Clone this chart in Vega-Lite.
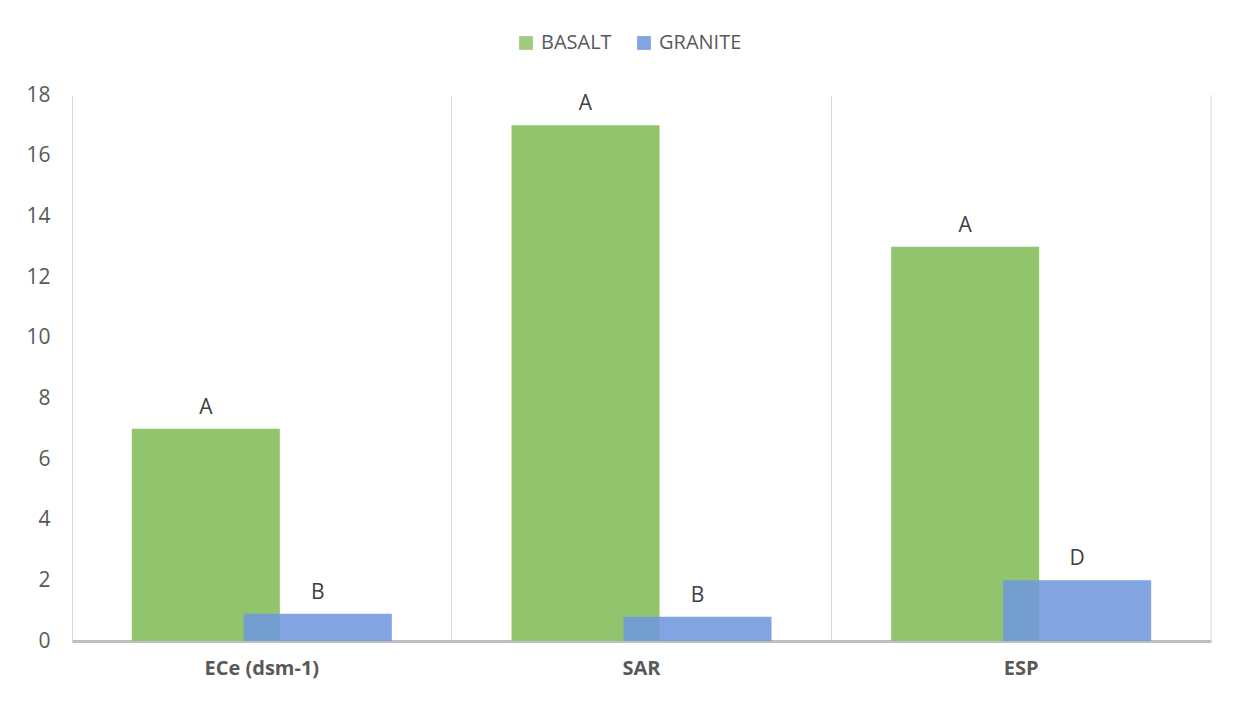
{
  "$schema": "https://vega.github.io/schema/vega-lite/v6.json",
  "width": 1139,
  "height": 546,
  "autosize": {"type": "none"},
  "padding": {"left": 72, "top": 95, "right": 23, "bottom": 60},
  "background": "white",
  "config": {
    "view": {"stroke": null},
    "font": "Open Sans"
  },
  "data": {
    "values": [
      {"category": "ECe (dsm-1)", "series": "BASALT", "value": 7, "label": "A"},
      {"category": "ECe (dsm-1)", "series": "GRANITE", "value": 0.9, "label": "B"},
      {"category": "SAR", "series": "BASALT", "value": 17, "label": "A"},
      {"category": "SAR", "series": "GRANITE", "value": 0.8, "label": "B"},
      {"category": "ESP", "series": "BASALT", "value": 13, "label": "A"},
      {"category": "ESP", "series": "GRANITE", "value": 2, "label": "D"}
    ]
  },
  "encoding": {
    "x": {
      "field": "category",
      "type": "nominal",
      "sort": ["ECe (dsm-1)", "SAR", "ESP"],
      "scale": {"paddingInner": 0, "paddingOuter": 0},
      "axis": {
        "title": null,
        "bandPosition": 0,
        "grid": true,
        "gridColor": "#d9d9d9",
        "gridWidth": 1,
        "ticks": false,
        "domainColor": "#bfbfbf",
        "domainWidth": 3,
        "labelAngle": 0,
        "labelFont": "Open Sans",
        "labelFontSize": 20,
        "labelFontWeight": "bold",
        "labelColor": "#595959",
        "labelPadding": 17
      }
    },
    "y": {
      "field": "value",
      "type": "quantitative",
      "scale": {"domain": [0, 18]},
      "axis": {
        "title": null,
        "values": [0, 2, 4, 6, 8, 10, 12, 14, 16, 18],
        "grid": false,
        "domain": false,
        "ticks": false,
        "labelFont": "Open Sans",
        "labelFontSize": 21,
        "labelColor": "#595959",
        "labelPadding": 22
      }
    }
  },
  "layer": [
    {
      "transform": [{"filter": "datum.series == 'BASALT'"}],
      "mark": {"type": "bar", "width": 148, "xOffset": -56},
      "encoding": {
        "color": {
          "field": "series",
          "type": "nominal",
          "scale": {"domain": ["BASALT", "GRANITE"], "range": ["#91c46c", "#7198de"]},
          "legend": {
            "title": null,
            "orient": "none",
            "legendX": 444,
            "legendY": -62,
            "direction": "horizontal",
            "symbolType": "square",
            "symbolSize": 190,
            "symbolStrokeWidth": 0,
            "labelFont": "Open Sans",
            "labelFontSize": 20,
            "labelColor": "#595959",
            "labelOffset": 5,
            "columnPadding": 22
          }
        }
      }
    },
    {
      "transform": [{"filter": "datum.series == 'GRANITE'"}],
      "mark": {"type": "bar", "width": 148, "xOffset": 56, "opacity": 0.88},
      "encoding": {
        "color": {"field": "series", "type": "nominal"}
      }
    },
    {
      "transform": [{"filter": "datum.series == 'BASALT'"}],
      "mark": {"type": "text", "xOffset": -56, "dy": -11, "baseline": "bottom", "font": "Open Sans", "fontSize": 21, "color": "#404040"},
      "encoding": {"text": {"field": "label"}}
    },
    {
      "transform": [{"filter": "datum.series == 'GRANITE'"}],
      "mark": {"type": "text", "xOffset": 56, "dy": -11, "baseline": "bottom", "font": "Open Sans", "fontSize": 21, "color": "#404040"},
      "encoding": {"text": {"field": "label"}}
    },
    {
      "data": {"values": [{"category": "ESP"}]},
      "mark": {"type": "rule", "color": "#d9d9d9", "strokeWidth": 1},
      "encoding": {
        "x": {"field": "category", "type": "nominal", "bandPosition": 1},
        "y": null
      }
    }
  ]
}
